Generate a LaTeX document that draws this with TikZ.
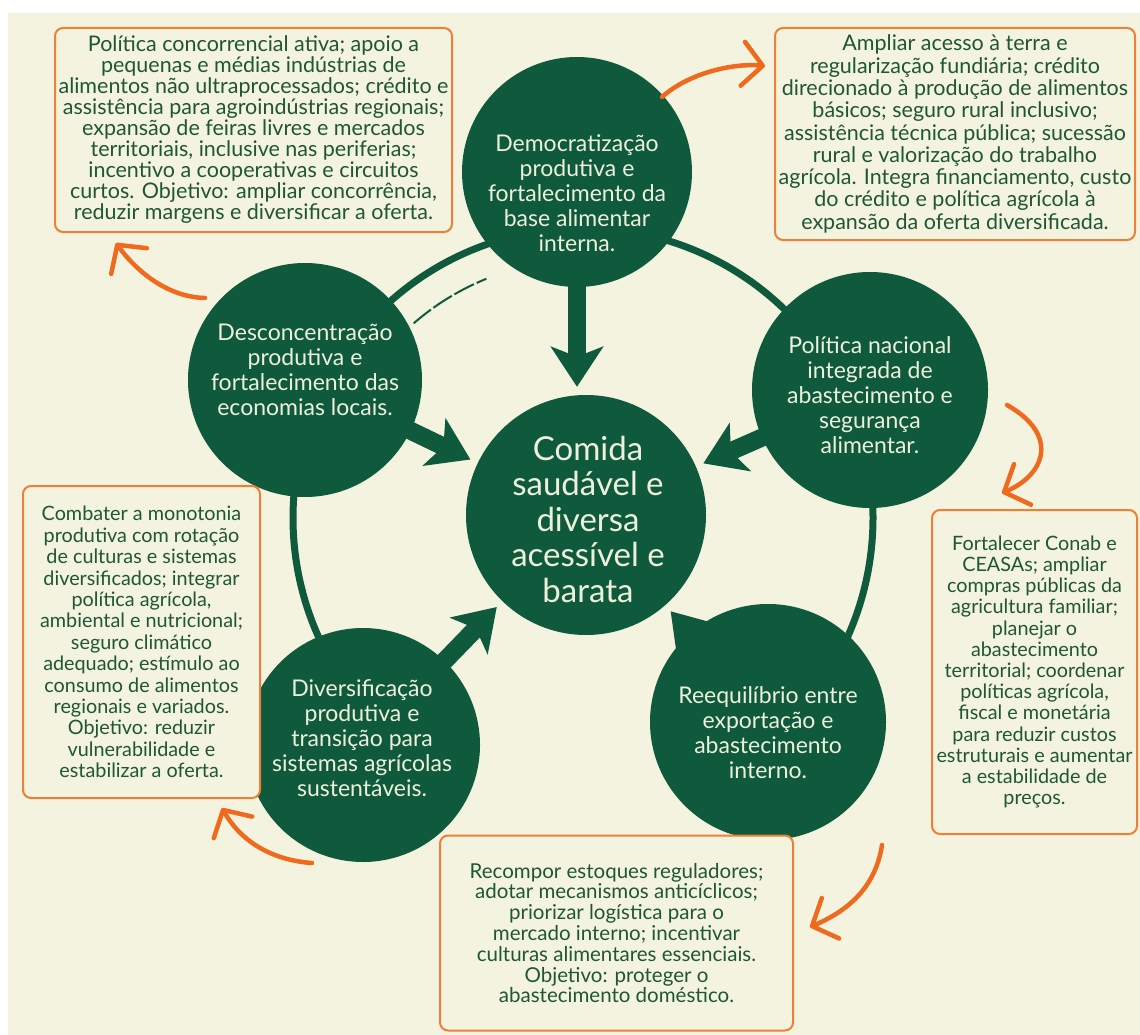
\documentclass[tikz,border=0pt]{standalone}
\usepackage{fontspec}
\setmainfont{Lato}
\usetikzlibrary{arrows.meta}
\definecolor{bg}{HTML}{F3F3DF}
\definecolor{dg}{HTML}{0F5A3C}
\definecolor{og}{HTML}{F06A1E}
\definecolor{ob}{HTML}{EE8035}
\definecolor{tg}{HTML}{1F5636}
\definecolor{ct}{HTML}{EEF0DC}
\begin{document}
\begin{tikzpicture}[x=1pt,y=-1pt,
  disc/.style={circle,fill=dg,inner sep=0pt,minimum size=#1},
  ctext/.style={text=ct,align=center,font=\fontsize{23}{25}\selectfont},
  infobox/.style={draw=ob,line width=2pt,rounded corners=8pt,fill=bg,text=tg,align=center,inner sep=0pt},
  bigarrow/.style={draw=dg,line width=18pt,-{Stealth[length=40pt,width=52pt,inset=10pt]},shorten >=8pt,shorten <=-30pt},
  curvearrow/.style={draw=og,line width=4.5pt,line cap=round,-{Straight Barb[length=20pt,width=44pt,line width=4.5pt,round]}}
]
\useasboundingbox (0,0) rectangle (1140,1035);
\fill[white] (0,0) rectangle (1140,1035);
\fill[bg] (8,13) rectangle (1140,1035);

% ring (open at the bottom)
\coordinate (ringc) at (583,518);
\draw[dg,line width=7pt] ([shift={(48:290)}]ringc) arc[start angle=48,end angle=-226,radius=290];
\draw[dg,line width=2pt,dash pattern=on 22pt off 3pt] ([shift={(-131:258)}]ringc) arc[start angle=-131,end angle=-112,radius=258];

% discs
\node[disc=230pt] (top) at (577,172) {};
\node[disc=234pt] (ul) at (305,380) {};
\node[disc=236pt] (rt) at (870,390) {};
\node[disc=234pt] (bl) at (363,745) {};
\node[disc=236pt] (br) at (768,722) {};
\node[disc=240pt] (ctr) at (586,515) {};

% arrows to centre
\draw[bigarrow] (top) -- (top.south |- ctr.north);
\draw[bigarrow] (ul) -- (ctr);
\draw[bigarrow] (rt) -- (ctr);
\draw[bigarrow] (bl) -- (ctr);
\draw[bigarrow] (br) -- (ctr);

% disc texts
\node[ctext] (ttop) at (577,193) {Democratização\\produtiva e\\fortalecimento da\\base alimentar\\interna.};
\node[ctext] (tul) at (305,370) {Desconcentração\\produtiva e\\fortalecimento das\\economias locais.};
\node[ctext] (trt) at (870,395) {Política nacional\\integrada de\\abastecimento e\\segurança\\alimentar.};
\node[ctext] (tbl) at (362,738) {Diversificação\\produtiva e\\transição para\\sistemas agrícolas\\sustentáveis.};
\node[ctext] (tbr) at (768,733) {Reequilíbrio entre\\exportação e\\abastecimento\\interno.};
\node[text=ct,align=center,font=\fontsize{33}{35.5}\selectfont] (tctr) at (588,519) {Comida\\saudável e\\diversa\\acessível e\\barata};

% boxes
\node[infobox,minimum width=397pt,minimum height=204pt,font=\fontsize{21.5}{21}\selectfont] (btl) at (253.5,130) {Política concorrencial ativa; apoio a\\pequenas e médias indústrias de\\alimentos não ultraprocessados; crédito e\\assistência para agroindústrias regionais;\\expansão de feiras livres e mercados\\territoriais, inclusive nas periferias;\\incentivo a cooperativas e circuitos\\curtos. Objetivo: ampliar concorrência,\\reduzir margens e diversificar a oferta.};
\node[infobox,minimum width=360pt,minimum height=212pt,font=\fontsize{21.5}{22.3}\selectfont] (btr) at (955,134) {Ampliar acesso à terra e\\regularização fundiária; crédito\\direcionado à produção de alimentos\\básicos; seguro rural inclusivo;\\assistência técnica pública; sucessão\\rural e valorização do trabalho\\agrícola. Integra financiamento, custo\\do crédito e política agrícola à\\expansão da oferta diversificada.};
\node[infobox,minimum width=237pt,minimum height=312pt,font=\fontsize{19.8}{21.4}\selectfont] (bl2) at (141.5,642) {Combater a monotonia\\produtiva com rotação\\de culturas e sistemas\\diversificados; integrar\\política agrícola,\\ambiental e nutricional;\\seguro climático\\adequado; estímulo ao\\consumo de alimentos\\regionais e variados.\\Objetivo: reduzir\\vulnerabilidade e\\estabilizar a oferta.};
\node[infobox,minimum width=205pt,minimum height=324pt,font=\fontsize{19.8}{21.2}\selectfont] (br2) at (1034.5,672) {Fortalecer Conab e\\CEASAs; ampliar\\compras públicas da\\agricultura familiar;\\planejar o\\abastecimento\\territorial; coordenar\\políticas agrícola,\\fiscal e monetária\\para reduzir custos\\estruturais e aumentar\\a estabilidade de\\preços.};
\node[infobox,minimum width=353pt,minimum height=195pt,font=\fontsize{20.5}{20.8}\selectfont] (bb) at (616.5,933) {Recompor estoques reguladores;\\adotar mecanismos anticíclicos;\\priorizar logística para o\\mercado interno; incentivar\\culturas alimentares essenciais.\\Objetivo: proteger o\\abastecimento doméstico.};

% orange curved arrows
\coordinate (a1s) at (205,298); \coordinate (a1e) at (116,243);
\coordinate (a2s) at (662,97);  \coordinate (a2e) at (765,66);
\coordinate (a3s) at (1007,405); \coordinate (a3e) at (1002,493);
\coordinate (a4s) at (882,845); \coordinate (a4e) at (810,927);
\coordinate (a5s) at (312,863); \coordinate (a5e) at (222,808);
\draw[curvearrow] (a1s) .. controls (165,297) and (134,268) .. (a1e);
\draw[curvearrow] (a2s) .. controls (690,72) and (735,63) .. (a2e);
\draw[curvearrow] (a3s) .. controls (1060,435) and (1045,475) .. (a3e);
\draw[curvearrow] (a4s) .. controls (875,890) and (845,912) .. (a4e);
\draw[curvearrow] (a5s) .. controls (270,860) and (240,840) .. (a5e);
\end{tikzpicture}
\end{document}
